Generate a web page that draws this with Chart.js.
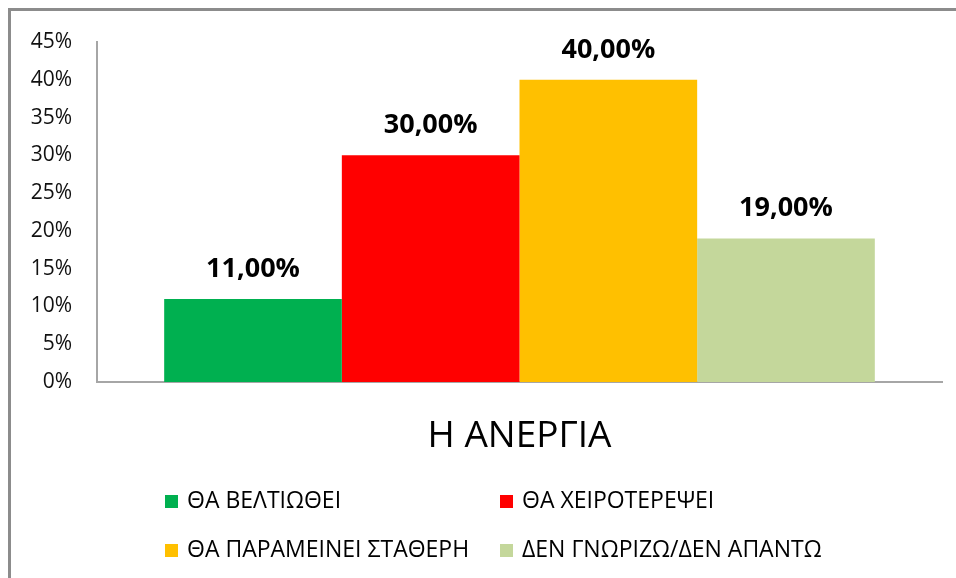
<!DOCTYPE html>
<html lang="el">
<head>
  <meta charset="UTF-8"/>
  <title>Η ΑΝΕΡΓΙΑ</title>
  <script src="https://cdn.jsdelivr.net/npm/chart.js@4"></script>
  <style>
    body { margin: 0; background: #fff; }
    #wrap { width: 956px; height: 578px; }
  </style>
</head>
<body>
  <div id="wrap"><canvas id="chart" width="956" height="578"></canvas></div>

  <script>
    // data
    const categories = ['Η ΑΝΕΡΓΙΑ'];
    const seriesNames = ['ΘΑ ΒΕΛΤΙΩΘΕΙ', 'ΘΑ ΧΕΙΡΟΤΕΡΕΨΕΙ', 'ΘΑ ΠΑΡΑΜΕΙΝΕΙ ΣΤΑΘΕΡΗ', 'ΔΕΝ ΓΝΩΡΙΖΩ/ΔΕΝ ΑΠΑΝΤΩ'];
    const seriesValues = [11, 30, 40, 19];
    const seriesColors = ['#00b050', '#ff0000', '#ffc000', '#c4d79b'];
    const yMax = 45;
    const yStep = 5;

    const FONT = "'Open Sans', 'Noto Sans', sans-serif";

    // outer frame (left + top edge only, like the cropped original)
    const framePlugin = {
      id: 'frame',
      beforeDraw(chart) {
        const ctx = chart.ctx;
        ctx.save();
        ctx.fillStyle = '#fff';
        ctx.fillRect(0, 0, chart.width, chart.height);
        ctx.strokeStyle = '#8c8c8c';
        ctx.lineWidth = 3;
        ctx.beginPath();
        ctx.moveTo(9.5, chart.height);
        ctx.lineTo(9.5, 9.5);
        ctx.lineTo(chart.width, 9.5);
        ctx.stroke();
        ctx.restore();
      }
    };

    // bold value labels above each bar
    const valueLabels = {
      id: 'valueLabels',
      afterDatasetsDraw(chart) {
        const ctx = chart.ctx;
        ctx.save();
        ctx.font = 'bold 27px ' + FONT;
        ctx.fillStyle = '#000';
        ctx.textAlign = 'center';
        ctx.textBaseline = 'alphabetic';
        chart.data.datasets.forEach((ds, i) => {
          chart.getDatasetMeta(i).data.forEach((bar, j) => {
            const txt = ds.data[j].toFixed(2).replace('.', ',') + '%';
            ctx.fillText(txt, bar.x, bar.y - 22);
          });
        });
        ctx.restore();
      }
    };

    // two-column legend under the axis title
    const gridLegend = {
      id: 'gridLegend',
      afterDraw(chart) {
        const ctx = chart.ctx;
        const colX = [165, 500];
        const rowY = [501, 550];
        ctx.save();
        ctx.font = '23px ' + FONT;
        ctx.textBaseline = 'middle';
        ctx.textAlign = 'left';
        chart.data.datasets.forEach((ds, i) => {
          const x = colX[i % 2];
          const y = rowY[Math.floor(i / 2)];
          ctx.fillStyle = ds.backgroundColor;
          ctx.fillRect(x, y - 6, 13, 13);
          ctx.fillStyle = '#000';
          ctx.fillText(ds.label, x + 22, y);
        });
        ctx.restore();
      }
    };

    const datasets = seriesNames.map((name, i) => ({
      label: name,
      data: [seriesValues[i]],
      backgroundColor: seriesColors[i],
      borderWidth: 0,
      barPercentage: 1,
      categoryPercentage: 0.841
    }));

    new Chart(document.getElementById('chart'), {
      type: 'bar',
      data: { labels: categories, datasets },
      options: {
        responsive: false,
        animation: false,
        layout: { padding: { top: 42, right: 14, left: 0, bottom: 0 } },
        plugins: {
          legend: { display: false },
          tooltip: { enabled: false }
        },
        scales: {
          x: {
            grid: { display: false, drawTicks: false },
            border: { display: true, color: '#a6a6a6', width: 2 },
            ticks: { color: '#000', font: { family: FONT, size: 37 }, padding: 32 },
            afterFit(scale) { scale.height = 196; }
          },
          y: {
            min: 0,
            max: yMax,
            grid: { display: false, drawTicks: false },
            border: { display: true, color: '#a6a6a6', width: 2 },
            ticks: {
              stepSize: yStep,
              color: '#111',
              padding: 25,
              font: { family: FONT, size: 21 },
              callback: v => v + '%'
            },
            afterFit(scale) { scale.width = 97; }
          }
        }
      },
      plugins: [framePlugin, valueLabels, gridLegend]
    });
  </script>
</body>
</html>
